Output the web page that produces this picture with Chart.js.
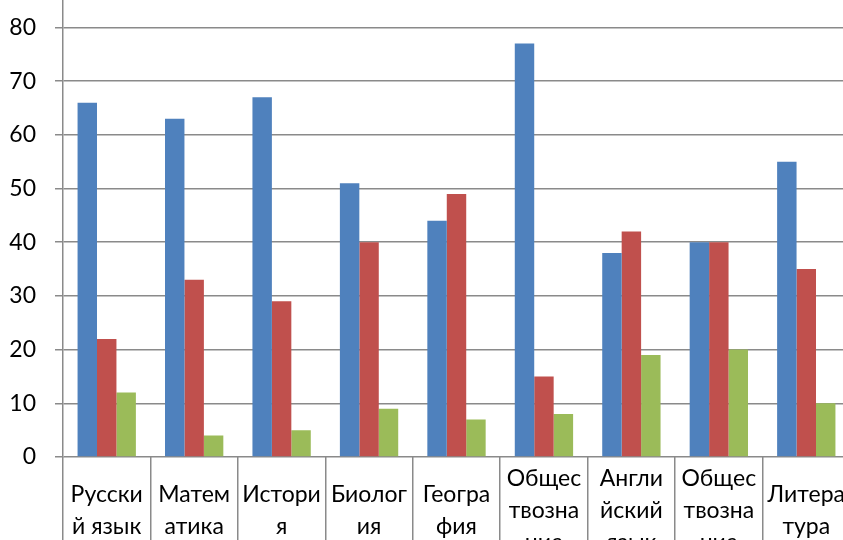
<!DOCTYPE html>
<html>
<head>
<meta charset="utf-8">
<script src="https://cdn.jsdelivr.net/npm/chart.js@4.4.1/dist/chart.umd.min.js"></script>
<style>
  html, body { margin: 0; padding: 0; background: #fff; overflow: hidden; width: 843px; height: 540px; }
  #wrap { position: absolute; left: 0; top: -59px; }
</style>
</head>
<body>
<div id="wrap"><canvas id="chart" width="862" height="640"></canvas></div>
<script>
'use strict';

// categories (wrapped the way the original labels wrap)
const subjects = [
  ['Русски', 'й язык'],
  ['Матем', 'атика'],
  ['Истори', 'я'],
  ['Биолог', 'ия'],
  ['Геогра', 'фия'],
  ['Общес', 'твозна', 'ние'],
  ['Англи', 'йский', 'язык'],
  ['Общес', 'твозна', 'ние'],
  ['Литера', 'тура']
];

const series1 = [66, 63, 67, 51, 44, 77, 38, 40, 55];
const series2 = [22, 33, 29, 40, 49, 15, 42, 40, 35];
const series3 = [12, 4, 5, 9, 7, 8, 19, 20, 10];

const yMin = 0;
const yMax = 90;
const yStep = 10;

const gridColor = '#8a8a8a';
const fontFamily = 'Lato, "Noto Sans", sans-serif';

(function initChart() {
  if (typeof Chart === 'undefined') {
    return;
  }
  const canvas = document.getElementById('chart');
  const ctx = canvas.getContext('2d');

  new Chart(ctx, {
    type: 'bar',
    data: {
      labels: subjects,
      datasets: [
        { label: 'Ряд 1', data: series1, backgroundColor: '#4f81bd' },
        { label: 'Ряд 2', data: series2, backgroundColor: '#c0504d' },
        { label: 'Ряд 3', data: series3, backgroundColor: '#9bbb59' }
      ]
    },
    options: {
      responsive: false,
      animation: false,
      layout: { padding: { left: 0, right: 12, top: 0, bottom: 0 } },
      datasets: {
        bar: { categoryPercentage: 0.667, barPercentage: 1, borderWidth: 0 }
      },
      plugins: {
        legend: { display: false },
        tooltip: { enabled: false }
      },
      scales: {
        x: {
          offset: true,
          grid: {
            offset: true,
            drawOnChartArea: false,
            drawTicks: true,
            tickLength: 100,
            color: gridColor,
            lineWidth: 1.5
          },
          border: { display: false },
          ticks: {
            padding: -78,
            maxRotation: 0,
            autoSkip: false,
            crossAlign: 'center',
            color: '#000',
            font: { family: fontFamily, size: 23, lineHeight: 1.39 }
          },
          afterFit: scale => { scale.height = 124; }
        },
        y: {
          min: yMin,
          max: yMax,
          ticks: {
            stepSize: yStep,
            padding: 19,
            color: '#000',
            font: { family: fontFamily, size: 23, lineHeight: 1.2 }
          },
          grid: {
            color: gridColor,
            lineWidth: 1.5,
            tickLength: 8
          },
          border: { display: true, color: gridColor, width: 1.5 },
          afterFit: scale => { scale.width = 63; }
        }
      }
    }
  });
})();
</script>
</body>
</html>
